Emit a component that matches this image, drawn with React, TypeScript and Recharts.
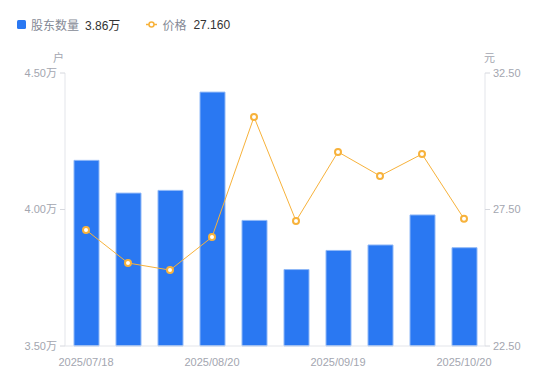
import { ComposedChart, Bar, Line, XAxis, YAxis } from 'recharts'

const dates = [
  '2025/07/18', '2025/07/31', '2025/08/10', '2025/08/20', '2025/08/31',
  '2025/09/10', '2025/09/19', '2025/09/30', '2025/10/10', '2025/10/20',
]
const holders = [4.18, 4.06, 4.07, 4.43, 3.96, 3.78, 3.85, 3.87, 3.98, 3.86]
const prices = [26.75, 25.54, 25.28, 26.49, 30.89, 27.08, 29.61, 28.73, 29.53, 27.16]
const leftTicks = [3.5, 4.0, 4.5]
const rightTicks = [22.5, 27.5, 32.5]

const data = dates.map((d, i) => ({ date: d, holders: holders[i], price: prices[i] }))

const font = '"Liberation Sans", "Noto Sans CJK SC", sans-serif'
const tickStyle = { fill: '#a3a6b0', fontSize: 11, fontFamily: font }

export default function App() {
  return (
    <div style={{ position: 'absolute', left: 0, top: 0, width: 550, height: 381, background: '#fff', fontFamily: font }}>
      {/* legend */}
      <div style={{ position: 'absolute', left: 17, top: 16, display: 'flex', alignItems: 'center', fontSize: 12, whiteSpace: 'nowrap' }}>
        <span style={{ display: 'inline-block', width: 9, height: 9, background: '#2a78f2', borderRadius: 1.5 }} />
        <span style={{ color: '#858a96', marginLeft: 5 }}>股东数量</span>
        <span style={{ color: '#333', marginLeft: 6 }}>3.86万</span>
        <svg width={11} height={9} style={{ marginLeft: 26 }}>
          <line x1={0} y1={4.5} x2={11} y2={4.5} stroke="#f7b23b" strokeWidth={1.5} />
          <circle cx={5.5} cy={4.5} r={2.5} fill="#fff" stroke="#f7b23b" strokeWidth={1.5} />
        </svg>
        <span style={{ color: '#858a96', marginLeft: 5 }}>价格</span>
        <span style={{ color: '#333', marginLeft: 7 }}>27.160</span>
      </div>
      <div style={{ position: 'absolute', left: 53, top: 49, fontSize: 11, color: '#a3a6b0' }}>户</div>
      <div style={{ position: 'absolute', left: 484, top: 49, fontSize: 11, color: '#a3a6b0' }}>元</div>
      <ComposedChart
        width={550}
        height={381}
        data={data}
        margin={{ top: 73, right: 15, left: 15, bottom: 0 }}
      >
        <XAxis
          dataKey="date"
          interval={2}
          tickLine={false}
          axisLine={{ stroke: '#e3e5ea' }}
          tick={tickStyle}
          tickMargin={6}
          height={35}
        />
        <YAxis
          yAxisId="left"
          domain={[3.5, 4.5]}
          ticks={leftTicks}
          width={50}
          axisLine={{ stroke: '#e3e5ea' }}
          tickLine={{ stroke: '#d6d8de' }}
          tickSize={5}
          tickMargin={3}
          tick={tickStyle}
          tickFormatter={(v: number) => `${v.toFixed(2)}万`}
        />
        <YAxis
          yAxisId="right"
          orientation="right"
          domain={[22.5, 32.5]}
          ticks={rightTicks}
          width={50}
          axisLine={{ stroke: '#e3e5ea' }}
          tickLine={{ stroke: '#d6d8de' }}
          tickSize={5}
          tickMargin={3}
          tick={tickStyle}
          tickFormatter={(v: number) => v.toFixed(2)}
        />
        <Bar
          yAxisId="left"
          dataKey="holders"
          fill="#2a78f2"
          stroke="#8fb8f7"
          strokeWidth={1}
          barSize={25}
          isAnimationActive={false}
        />
        <Line
          yAxisId="right"
          dataKey="price"
          type="linear"
          stroke="#f7b23b"
          strokeWidth={1}
          dot={{ r: 3, fill: '#fff', stroke: '#f7b23b', strokeWidth: 2 }}
          isAnimationActive={false}
        />
      </ComposedChart>
    </div>
  )
}
